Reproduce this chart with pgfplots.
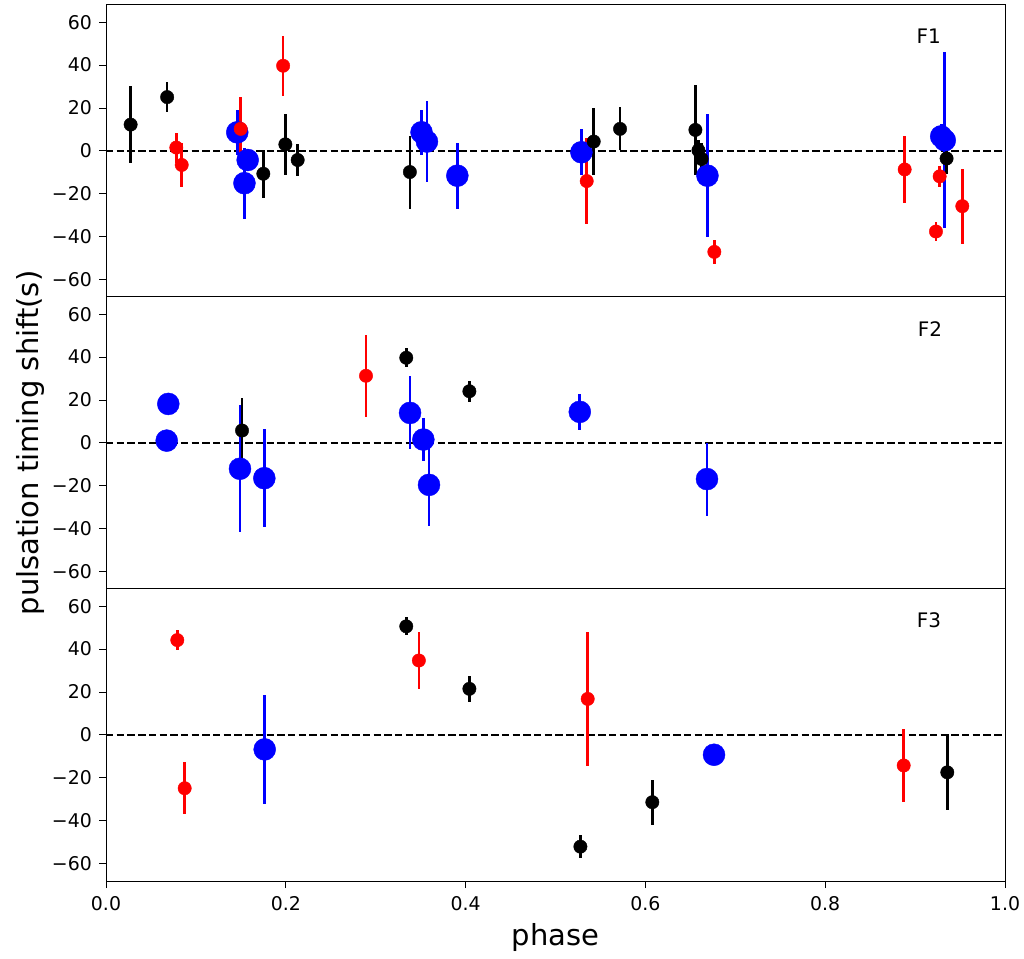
\documentclass[border=0pt]{standalone}
\usepackage{fontspec}
\setmainfont{DejaVu Sans}
\usepackage{pgfplots}
\pgfplotsset{compat=1.18}

\pgfplotsset{
  panel/.style={
    width=899pt, height=292pt, scale only axis,
    xmin=0, xmax=1, ymin=-68, ymax=68,
    ytick={-60,-40,-20,0,20,40,60},
    yticklabels={−60,−40,−20,0,20,40,60},
    tick align=outside, ytick pos=left, xtick pos=bottom,
    major tick length=7pt,
    every tick/.style={black, line width=1pt},
    axis line style={line width=1pt},
    tick label style={font=\fontsize{18.9}{22}\selectfont},
    yticklabel style={inner sep=0pt, xshift=-7pt},
    xticklabel style={inner sep=0pt, yshift=-8pt},
    clip=false,
  },
  pts/.style={
    only marks, mark=*, mark size=6.7pt,
    /pgfplots/error bars/y dir=both, /pgfplots/error bars/y explicit,
    /pgfplots/error bars/error mark=none,
    /pgfplots/error bars/error bar style={line width=2.7pt},
  },
  big/.style={mark size=11pt},
  zero/.style={black, line width=1.6pt, dash pattern=on 7.4pt off 3.3pt, no marks, forget plot},
}

\begin{document}
\begin{tikzpicture}

% ---- F1 ----
\begin{axis}[panel, at={(106pt,661pt)}, anchor=south west, xtick=\empty]
\addplot[zero] coordinates {(0,0) (1,0)};
\addplot[blue, pts, big] table[x=x, y=y, y error=e] {
x y e
0.146 8.7 10.5
0.1576 -4.2 3
0.154 -15 16.5
0.351 8.7 10.5
0.357 4.4 18.7
0.3908 -11.5 15.4
0.5288 -0.6 10.7
0.669 -11.5 28.7
0.929 6.8 6
0.933 5.0 41
};
\addplot[black, pts] table[x=x, y=y, y error=e] {
x y e
0.0274 12.3 18
0.068 25.1 7
0.175 -10.6 11.2
0.1995 3.1 14.2
0.2132 -4.2 7.5
0.338 -9.8 17
0.5425 4.4 15.7
0.5718 10.3 10
0.6556 9.8 21
0.659 0.3 5
0.6625 -3.7 7.5
0.935 -3.5 7
};
\addplot[red, pts] table[x=x, y=y, y error=e] {
x y e
0.0782 1.6 7
0.0842 -6.5 10.3
0.1498 10.3 15
0.197 39.7 14
0.5347 -14 20
0.6767 -47 5.5
0.8884 -8.6 15.7
0.9232 -37.5 4.5
0.9273 -11.8 5
0.9525 -25.7 17.5
};
\end{axis}

% ---- F2 ----
\begin{axis}[panel, at={(106pt,369pt)}, anchor=south west, xtick=\empty]
\addplot[zero] coordinates {(0,0) (1,0)};
\addplot[blue, pts, big] table[x=x, y=y, y error=e] {
x y e
0.0693 18.2 0
0.0675 1.1 0
0.149 -12 29.6
0.1761 -16.4 22.7
0.3382 14 17
0.353 1.6 10
0.3593 -19.5 19
0.527 14.5 8.4
0.6685 -16.8 17
};
\addplot[black, pts] table[x=x, y=y, y error=e] {
x y e
0.1513 5.8 15
0.334 39.7 4.4
0.4042 24.1 4.8
};
\addplot[red, pts] table[x=x, y=y, y error=e] {
x y e
0.2892 31.3 19.2
};
\end{axis}

% ---- F3 ----
\begin{axis}[panel, at={(106pt,77pt)}, anchor=south west,
  xtick={0,0.2,0.4,0.6,0.8,1.0},
  xticklabels={0.0,0.2,0.4,0.6,0.8,1.0}]
\addplot[zero] coordinates {(0,0) (1,0)};
\addplot[blue, pts, big] table[x=x, y=y, y error=e] {
x y e
0.1765 -6.7 25.5
0.6763 -9.2 0
};
\addplot[black, pts] table[x=x, y=y, y error=e] {
x y e
0.334 50.6 4.2
0.4042 21.5 5.9
0.5277 -52 5.5
0.6077 -31.3 10.4
0.9358 -17.4 17.7
};
\addplot[red, pts] table[x=x, y=y, y error=e] {
x y e
0.0793 44.2 4.7
0.0875 -24.8 12
0.348 34.7 13.2
0.5358 16.8 31.4
0.8873 -14.2 16.8
};
\end{axis}

% panel tags and axis titles
\node[font=\fontsize{20}{24}\selectfont] at (928.7pt,922pt) {F1};
\node[font=\fontsize{20}{24}\selectfont] at (930pt,629pt) {F2};
\node[font=\fontsize{20}{24}\selectfont] at (929pt,338pt) {F3};
\node[font=\fontsize{29}{34}\selectfont, anchor=base] at (555.5pt,13pt) {phase};
\node[font=\fontsize{29}{34}\selectfont, rotate=90] at (30pt,515pt) {pulsation timing shift(s)};

\pgfresetboundingbox
\path[use as bounding box] (0pt,0pt) rectangle (1024pt,958pt);
\end{tikzpicture}
\end{document}
